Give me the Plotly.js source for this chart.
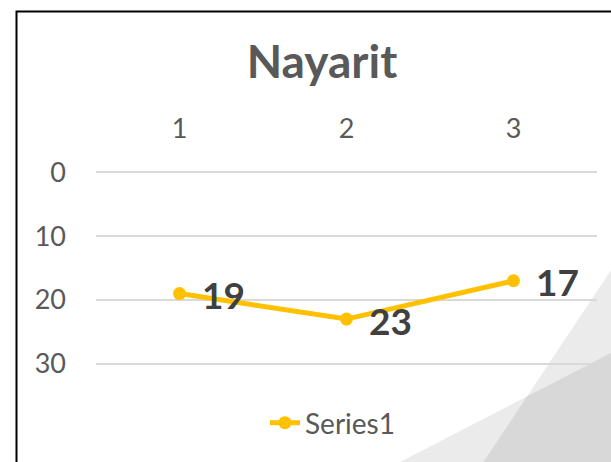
<!DOCTYPE html>
<html>
<head>
<meta charset="utf-8">
<script src="https://cdn.plot.ly/plotly-3.0.1.min.js"></script>
<style>html,body{margin:0;padding:0;background:#fff;}#chart{width:611px;height:462px;}</style>
</head>
<body>
<div id="chart"></div>
<script>
// ---- data ----
var categories = [1, 2, 3];
var tickLabels = ['1', '2', '3'];
var series1 = [19, 23, 17];
var yTicks = [0, 10, 20, 30];
var seriesName = 'Series1';
var chartTitle = 'Nayarit';

// ---- layout geometry (pixels) ----
var W = 611, H = 462;
var M = {l: 96, r: 14, t: 170, b: 96};
var PW = W - M.l - M.r, PH = H - M.t - M.b;
function xp(px) { return (px - M.l) / PW; }
function yp(py) { return (H - M.b - py) / PH; }
function pathOf(pts) {
  return 'M' + pts.map(function (p) { return xp(p[0]).toFixed(4) + ',' + yp(p[1]).toFixed(4); }).join(' L') + ' Z';
}

var FONT = 'Lato, "Open Sans", "DejaVu Sans", sans-serif';

var trace = {
  type: 'scatter',
  mode: 'lines+markers',
  x: categories,
  y: series1,
  name: seriesName,
  line: {color: '#FFC000', width: 5},
  marker: {color: '#FFC000', size: 13},
  hoverinfo: 'x+y',
  cliponaxis: false
};

var annotations = categories.map(function (c, i) {
  return {
    x: c, y: series1[i], xref: 'x', yref: 'y',
    text: String(series1[i]),
    showarrow: false, xanchor: 'left', yanchor: 'middle',
    xshift: 20, yshift: -1,
    font: {family: FONT, size: 37, color: '#404040', weight: 'bold'}
  };
});

var shapes = [
  {type: 'path', xref: 'paper', yref: 'paper', layer: 'below',
   path: pathOf([[478, 470], [620, 256.5], [620, 470]]),
   fillcolor: 'rgba(0,0,0,0.08)', line: {width: 0}},
  {type: 'path', xref: 'paper', yref: 'paper', layer: 'below',
   path: pathOf([[384.5, 470], [620, 348.4], [620, 470]]),
   fillcolor: 'rgba(0,0,0,0.08)', line: {width: 0}},
  {type: 'rect', xref: 'paper', yref: 'paper', layer: 'above',
   x0: xp(16.5), x1: xp(720), y0: yp(11.5), y1: yp(540),
   line: {color: '#000000', width: 2}, fillcolor: 'rgba(0,0,0,0)'}
];

var layout = {
  width: W, height: H,
  margin: M,
  paper_bgcolor: '#ffffff',
  plot_bgcolor: 'rgba(0,0,0,0)',
  font: {family: FONT, color: '#595959'},
  title: {
    text: chartTitle,
    font: {family: FONT, size: 46, color: '#595959', weight: 'bold'},
    xref: 'container', yref: 'container',
    x: 322 / W, xanchor: 'center',
    y: 1 - 62 / H, yanchor: 'middle'
  },
  xaxis: {
    side: 'top',
    range: [0.5, 3.5],
    tickvals: categories, ticktext: tickLabels,
    showgrid: false, zeroline: false, showline: false,
    ticks: '',
    ticklabelstandoff: 26,
    tickfont: {family: FONT, size: 27, color: '#595959'}
  },
  yaxis: {
    range: [30.35, -0.35],
    tickvals: yTicks,
    showgrid: true, gridcolor: '#d9d9d9', gridwidth: 1.5,
    zeroline: false, showline: false,
    ticks: '',
    ticklabelstandoff: 29,
    tickfont: {family: FONT, size: 27, color: '#595959'}
  },
  showlegend: true,
  legend: {
    orientation: 'h',
    x: xp(265), xanchor: 'left',
    y: yp(423), yanchor: 'middle',
    bgcolor: 'rgba(0,0,0,0)',
    font: {family: FONT, size: 28, color: '#595959'}
  },
  annotations: annotations,
  shapes: shapes
};

Plotly.newPlot('chart', [trace], layout, {displayModeBar: false, staticPlot: true});
</script>
</body>
</html>
